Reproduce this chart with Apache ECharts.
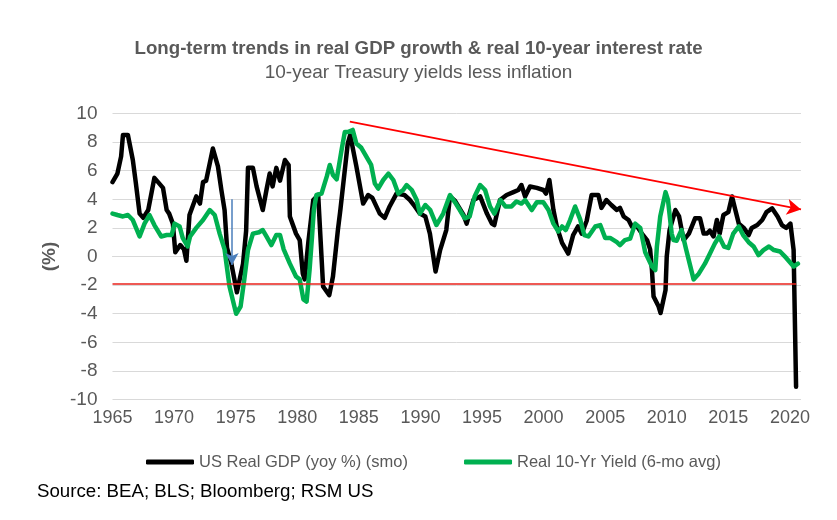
<!DOCTYPE html>
<html>
<head>
<meta charset="utf-8">
<script src="https://cdn.jsdelivr.net/npm/echarts@6.0.0/dist/echarts.min.js"></script>
<style>
html,body{margin:0;padding:0;background:#fff;}
#chart{width:837px;height:520px;}
</style>
</head>
<body>
<div id="chart"></div>
<script>
// ---- Data ----
const titleText = 'Long-term trends in real GDP growth & real 10-year interest rate';
const subtitleText = '10-year Treasury yields less inflation';
const sourceText = 'Source: BEA; BLS; Bloomberg; RSM US';
const gdpName = 'US Real GDP (yoy %) (smo)';
const yieldName = 'Real 10-Yr Yield (6-mo avg)';

const gdpYears = [1965.0,1965.4,1965.7,1965.85,1966.25,1966.65,1966.9,1967.2,1967.5,1967.9,1968.4,1968.7,1969.1,1969.4,1969.6,1969.9,1970.1,1970.5,1970.8,1971.0,1971.25,1971.8,1972.1,1972.35,1972.6,1973.15,1973.56,1973.84,1974.1,1974.3,1974.65,1975.1,1975.6,1975.85,1976.0,1976.4,1976.7,1977.2,1977.5,1977.76,1978.0,1978.3,1978.6,1979.0,1979.3,1979.4,1979.9,1980.2,1980.45,1980.6,1980.9,1981.3,1981.7,1982.1,1982.6,1982.9,1983.3,1983.5,1984.1,1984.3,1984.8,1985.35,1985.76,1986.1,1986.7,1987.1,1987.5,1988.06,1988.7,1989.15,1989.55,1989.96,1990.4,1990.77,1991.23,1991.6,1992.1,1992.4,1992.8,1993.5,1993.75,1994.3,1994.85,1995.4,1995.8,1996.0,1996.46,1997.0,1997.55,1997.95,1998.2,1998.5,1998.9,1999.45,1999.98,2000.2,2000.47,2000.8,2001.07,2001.5,2002.0,2002.4,2002.8,2003.1,2003.5,2003.9,2004.45,2004.7,2005.1,2005.5,2005.95,2006.2,2006.5,2006.9,2007.17,2007.6,2007.98,2008.4,2008.65,2008.8,2008.93,2009.34,2009.5,2009.9,2010.0,2010.23,2010.7,2011.0,2011.37,2011.8,2012.3,2012.7,2013.0,2013.25,2013.5,2013.8,2014.07,2014.3,2014.6,2015.0,2015.3,2015.57,2015.85,2016.25,2016.65,2016.9,2017.35,2017.75,2018.1,2018.55,2019.0,2019.35,2019.7,2020.04,2020.3,2020.5];
const gdpValues = [5.2,5.8,7.0,8.5,8.5,6.75,5.1,3.0,2.7,3.25,5.5,5.2,4.8,3.25,3.0,2.3,0.3,0.8,0.5,-0.3,2.9,4.2,3.7,5.2,5.3,7.55,6.3,4.65,3.25,0.6,-0.5,-2.5,-0.5,1.8,6.2,6.2,4.9,3.25,4.65,5.8,4.9,6.2,5.3,6.75,6.4,2.8,1.6,1.15,-1.2,-1.6,1.0,3.95,4.3,-2.1,-2.7,-1.4,1.85,3.25,7.9,8.5,6.3,3.7,4.3,4.1,3.0,2.7,3.5,4.4,4.3,3.95,3.5,3.0,2.8,1.6,-1.05,0.45,1.85,4.2,3.9,2.9,2.3,3.95,4.2,3.0,2.3,2.2,3.95,4.3,4.5,4.65,5.0,4.2,4.9,4.8,4.65,4.4,5.35,3.25,2.1,0.95,0.2,1.5,2.1,1.6,2.5,4.3,4.3,3.4,3.95,3.6,3.25,3.4,2.8,2.55,2.1,2.1,1.6,1.15,0.5,-0.95,-2.8,-3.5,-3.95,-2.35,0.0,1.85,3.25,2.8,1.15,1.6,2.67,2.67,1.6,1.6,1.8,1.4,2.55,1.6,2.9,3.1,4.2,3.25,2.3,2.0,1.5,2.0,2.2,2.55,3.1,3.37,2.8,2.2,2.0,2.3,0.45,-9.1];

const yieldYears = [1965.0,1965.4,1965.85,1966.25,1966.65,1967.2,1967.6,1968.0,1968.4,1968.96,1969.4,1969.8,1970.04,1970.45,1970.7,1971.1,1971.3,1971.8,1972.35,1972.9,1973.3,1973.7,1974.1,1974.25,1974.5,1975.04,1975.4,1975.7,1976.0,1976.4,1976.9,1977.2,1977.5,1977.9,1978.3,1978.6,1978.9,1979.4,1979.9,1980.2,1980.5,1980.76,1981.0,1981.2,1981.35,1981.56,1981.97,1982.4,1982.64,1982.9,1983.2,1983.6,1983.86,1984.1,1984.5,1984.8,1985.2,1985.6,1986.0,1986.3,1986.57,1986.98,1987.4,1987.8,1988.2,1988.6,1988.88,1989.3,1989.7,1989.96,1990.4,1990.8,1991.3,1991.85,1992.4,1992.8,1993.2,1993.6,1994.0,1994.4,1994.85,1995.25,1995.65,1996.0,1996.5,1996.9,1997.4,1997.8,1998.2,1998.5,1999.04,1999.45,1999.98,2000.4,2000.8,2001.2,2001.5,2001.8,2002.15,2002.56,2002.97,2003.3,2003.64,2004.2,2004.6,2005.0,2005.4,2005.95,2006.2,2006.6,2007.03,2007.44,2007.85,2008.25,2008.8,2009.07,2009.2,2009.47,2009.9,2010.1,2010.4,2010.55,2010.8,2011.2,2011.57,2012.18,2012.6,2013.1,2013.5,2013.9,2014.25,2014.65,2015.0,2015.4,2015.85,2016.2,2016.65,2017.05,2017.45,2017.85,2018.3,2018.7,2019.2,2019.7,2020.3,2020.65];
const yieldValues = [3.0,2.9,2.8,2.9,2.55,1.4,2.3,2.9,2.2,1.4,1.5,1.5,2.3,2.1,1.3,0.7,1.4,2.0,2.55,3.25,2.9,1.6,0.5,-0.5,-2.1,-4.0,-3.5,-1.6,0.45,1.6,1.7,1.85,1.4,0.8,1.5,1.5,0.5,-0.5,-1.4,-1.6,-3.0,-3.15,-0.95,1.4,3.3,4.3,4.4,5.6,6.4,5.7,5.4,7.45,8.7,8.7,8.85,7.9,7.6,7.0,6.4,5.1,4.75,5.35,5.8,5.35,4.4,4.65,5.0,4.65,3.95,3.0,3.6,3.25,2.2,3.0,4.3,3.8,3.25,2.67,2.8,4.2,5.0,4.65,3.5,3.0,3.95,3.5,3.5,3.85,3.7,3.95,3.25,3.8,3.8,3.25,2.3,1.75,2.1,1.85,2.55,3.5,2.6,1.5,1.4,2.1,2.2,1.3,1.3,1.0,0.8,1.15,1.25,2.3,2.0,0.3,-0.7,-0.95,0.7,2.8,4.5,3.95,1.6,1.15,1.1,1.85,0.5,-1.6,-1.2,-0.5,0.2,0.9,1.4,0.7,0.6,1.6,2.1,1.5,1.0,0.7,0.1,0.45,0.7,0.45,0.35,-0.1,-0.7,-0.5];

const yTicks = [-10,-8,-6,-4,-2,0,2,4,6,8,10];
const xTickStep = 5;

// annotations (data coordinates)
const redLevel = -1.9;
const redLevelSpan = [1965, 2020.5];
const trendStart = [1984.27, 9.43];
const trendEnd = [2020.9, 3.29];
const blueArrowStart = [1974.7, 4.0];
const blueArrowEnd = [1974.7, -0.6];

// ---- Build ----
const gdpData = gdpYears.map((y, i) => [y, gdpValues[i]]);
const yieldData = yieldYears.map((y, i) => [y, yieldValues[i]]);

const FONT = '"Liberation Sans", Arial, sans-serif';
const GRAY = '#595959';

const chart = echarts.init(document.getElementById('chart'), null, {renderer: 'canvas'});
chart.setOption({
  animation: false,
  backgroundColor: '#ffffff',
  textStyle: {fontFamily: FONT},
  title: [{
    text: titleText,
    subtext: subtitleText,
    left: 'center',
    top: 39,
    padding: 0,
    itemGap: 4,
    textStyle: {fontFamily: FONT, fontSize: 18.7, fontWeight: 'bold', color: GRAY, lineHeight: 20},
    subtextStyle: {fontFamily: FONT, fontSize: 19, color: GRAY, lineHeight: 20}
  }, {
    text: sourceText,
    left: 37,
    top: 482,
    padding: 0,
    textStyle: {fontFamily: FONT, fontSize: 18.7, fontWeight: 'normal', color: '#000000', lineHeight: 20}
  }],
  legend: {
    left: 146,
    top: 452,
    padding: 0,
    itemGap: 56,
    itemWidth: 48,
    itemHeight: 5,
    icon: 'roundRect',
    textStyle: {fontFamily: FONT, fontSize: 16.5, color: GRAY, lineHeight: 20},
    data: [{name: gdpName}, {name: yieldName}]
  },
  grid: {left: 112.5, right: 36, top: 113.5, bottom: 120.5},
  xAxis: {
    type: 'value',
    min: 1965,
    max: 2020.9,
    interval: xTickStep,
    axisLine: {show: true, lineStyle: {color: '#d9d9d9'}},
    axisTick: {show: false},
    splitLine: {show: false},
    axisLabel: {
      fontFamily: FONT, fontSize: 18, color: GRAY, margin: 10,
      showMaxLabel: false,
      formatter: v => (Math.abs(v % xTickStep) < 1e-6 ? String(v) : '')
    }
  },
  yAxis: {
    type: 'value',
    min: yTicks[0],
    max: yTicks[yTicks.length - 1],
    interval: 2,
    name: '(%)',
    nameLocation: 'middle',
    nameGap: 52,
    nameRotate: 90,
    nameTextStyle: {fontFamily: FONT, fontSize: 19, fontWeight: 'bold', color: GRAY},
    axisLine: {show: false},
    axisTick: {show: false},
    splitLine: {show: true, lineStyle: {color: '#d9d9d9', width: 1}},
    axisLabel: {fontFamily: FONT, fontSize: 19, color: GRAY, margin: 15}
  },
  series: [{
    name: gdpName,
    type: 'line',
    data: gdpData,
    showSymbol: false,
    symbol: 'none',
    lineStyle: {color: '#000000', width: 4.5, join: 'round', cap: 'round'},
    itemStyle: {color: '#000000'},
    z: 2
  }, {
    name: yieldName,
    type: 'line',
    data: yieldData,
    showSymbol: false,
    symbol: 'none',
    lineStyle: {color: '#00b050', width: 4.5, join: 'round', cap: 'round'},
    itemStyle: {color: '#00b050'},
    z: 3,
    markLine: {
      silent: true,
      animation: false,
      label: {show: false},
      emphasis: {disabled: true},
      data: [
        [{coord: [redLevelSpan[0], redLevel], symbol: 'none', lineStyle: {color: '#e8221b', width: 1.5, type: 'solid'}},
         {coord: [redLevelSpan[1], redLevel], symbol: 'none'}],
        [{coord: trendStart, symbol: 'none', lineStyle: {color: '#ff0000', width: 1.8, type: 'solid'}},
         {coord: trendEnd, symbol: 'arrow', symbolSize: [12, 14]}],
        [{coord: blueArrowStart, symbol: 'none', lineStyle: {color: '#4a7ebb', width: 1.5, type: 'solid'}},
         {coord: blueArrowEnd, symbol: 'arrow', symbolSize: [10, 12]}]
      ]
    }
  }]
});
</script>
</body>
</html>
